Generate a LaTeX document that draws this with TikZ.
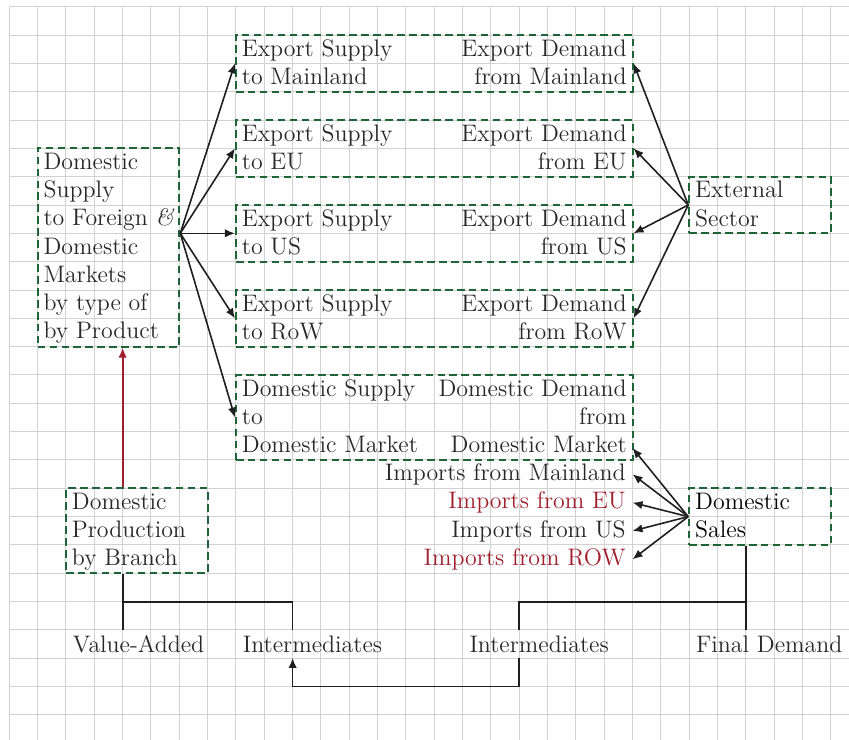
\documentclass[tikz,border=0pt]{standalone}
\usetikzlibrary{arrows.meta,fit}
\definecolor{boxgreen}{RGB}{30,100,55}
\definecolor{txtgray}{RGB}{40,40,40}
\definecolor{darkred}{RGB}{160,30,45}
\definecolor{gridgray}{RGB}{210,210,210}
\begin{document}
\begin{tikzpicture}[x=0.5cm,y=-0.5cm,
  font=\fontsize{12}{14.2}\selectfont,
  box/.style={draw=boxgreen, line width=1pt, dash pattern=on 3.8pt off 2.2pt, inner sep=0pt},
  txt/.style={text=txtgray, inner xsep=3.3pt, inner ysep=2.6pt},
  lt/.style={txt, align=left, anchor=north west},
  rt/.style={txt, align=right, anchor=north east},
  imp/.style={txt, anchor=base east},
  conn/.style={draw=black!88, line width=0.8pt, -{Latex[length=5pt,width=4.2pt]}},
  redconn/.style={draw=darkred, line width=0.9pt, -{Latex[length=5pt,width=4.2pt]}},
  bracket/.style={draw=black!88, line width=0.9pt}
]
\useasboundingbox (-0.328,-0.236) rectangle (29.64,25.88);
\draw[gridgray, line width=0.5pt, step=0.5cm] (0,0) grid (29.64,25.88);

% boxes
\node[box, fit={(8,1) (22,3)}] (bm) {};
\node[box, fit={(8,4) (22,6)}] (be) {};
\node[box, fit={(8,7) (22,9)}] (bu) {};
\node[box, fit={(8,10) (22,12)}] (br) {};
\node[box, fit={(8,13) (22,16)}] (bd) {};
\node[box, fit={(1,5) (6,12)}] (ls) {};
\node[box, fit={(24,6) (29,8)}] (es) {};
\node[box, fit={(24,17) (29,19)}] (dsal) {};
\node[box, fit={(2,17) (7,20)}] (dp) {};

% box texts
\node[lt] (bmL) at (bm.north west) {Export Supply\\to Mainland};
\node[rt] (bmR) at (bm.north east) {Export Demand\\from Mainland};
\node[lt] (beL) at (be.north west) {Export Supply\\to EU};
\node[rt] (beR) at (be.north east) {Export Demand\\from EU};
\node[lt] (buL) at (bu.north west) {Export Supply\\to US};
\node[rt] (buR) at (bu.north east) {Export Demand\\from US};
\node[lt] (brL) at (br.north west) {Export Supply\\to RoW};
\node[rt] (brR) at (br.north east) {Export Demand\\from RoW};
\node[lt] (bdL) at (bd.north west) {Domestic Supply\\to\\Domestic Market};
\node[rt] (bdR) at (bd.north east) {Domestic Demand\\from\\Domestic Market};
\node[lt] (lsT) at (ls.north west) {Domestic\\Supply\\to Foreign \textit{\&}\\Domestic\\Markets\\by type of\\by Product};
\node[lt] (esT) at (es.north west) {External\\Sector};
\node[lt, text=black] (dsalT) at (dsal.north west) {Domestic\\Sales};
\node[lt] (dpT) at (dp.north west) {Domestic\\Production\\by Branch};

% imports
\node[imp] (imp1) at (22,16.72) {Imports from Mainland};
\node[imp, text=darkred] (imp2) at (22,17.72) {Imports from EU};
\node[imp] (imp3) at (22,18.72) {Imports from US};
\node[imp, text=darkred] (imp4) at (22,19.72) {Imports from ROW};

% bottom labels
\node[lt] (va) at (2,22) {Value-Added};
\node[lt] (im1) at (8,22) {Intermediates};
\node[lt] (im2) at (16,22) {Intermediates};
\node[lt] (fd) at (24,22) {Final Demand};

% helper coordinates
\coordinate (src) at (ls.east |- bu.west);
\coordinate (ddm) at (22,15.58);
\coordinate (j1) at (4,21);
\coordinate (j2) at (10,21);
\coordinate (j3) at (18,21);
\coordinate (j4) at (26,21);
\coordinate (b1) at (18,24);
\coordinate (b2) at (10,24);

% supply arrows
\foreach \t in {bm,be,bu,br,bd} \draw[conn] (src) -- (\t.west);
% external sector arrows
\foreach \t in {bm,be,bu,br} \draw[conn] (es.west) -- (\t.east);
% domestic sales arrows
\draw[conn] (dsal.west) -- (ddm);
\foreach \t in {imp1,imp2,imp3,imp4} \draw[conn] (dsal.west) -- (\t.east);

% red arrow
\draw[redconn] (dp.north -| j1) -- (ls.south -| j1);

% brackets
\draw[bracket] (dp.south -| j1) -- (j1 |- va.north);
\draw[bracket] (j1) -- (j2) -- (j2 |- im1.north);
\draw[bracket] (dsal.south -| j4) -- (j4 |- fd.north);
\draw[bracket] (j4) -- (j3) -- (j3 |- im2.north);
\draw[conn] (im2.south -| b1) -- (b1) -- (b2) -- (im1.south -| b2);
\end{tikzpicture}
\end{document}
